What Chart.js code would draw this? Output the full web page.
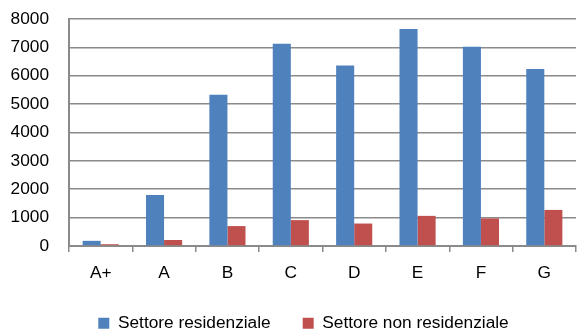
<!DOCTYPE html>
<html>
<head>
<meta charset="utf-8">
<script src="https://cdn.jsdelivr.net/npm/chart.js@4"></script>
<style>
  html, body { margin: 0; padding: 0; background: #fff; }
  #wrap { width: 577px; height: 333px; }
</style>
</head>
<body>
<div id="wrap"><canvas id="chart"></canvas></div>
<script>
// classi energetiche
var classi = ['A+', 'A', 'B', 'C', 'D', 'E', 'F', 'G'];
var residenziale = [180, 1800, 5330, 7125, 6360, 7650, 7020, 6240];
var nonResidenziale = [60, 210, 700, 910, 790, 1060, 970, 1270];
var yTicks = [0, 1000, 2000, 3000, 4000, 5000, 6000, 7000, 8000];

var grigio = '#8a8a8a';
var font = { family: 'Liberation Sans, Arial, sans-serif', size: 17.3 };

// sposta un po' la legenda a destra, come nell'originale
var spostaLegenda = {
  id: 'spostaLegenda',
  afterLayout: function (chart) {
    chart.legend.left += 10;
    chart.legend.right += 10;
  }
};

new Chart(document.getElementById('chart'), {
  type: 'bar',
  data: {
    labels: classi,
    datasets: [{
      label: 'Settore residenziale',
      data: residenziale,
      backgroundColor: '#4f81bd'
    }, {
      label: 'Settore non residenziale',
      data: nonResidenziale,
      backgroundColor: '#c0504d'
    }]
  },
  plugins: [spostaLegenda],
  options: {
    responsive: true,
    maintainAspectRatio: false,
    animation: false,
    datasets: {
      bar: { barPercentage: 1, categoryPercentage: 0.57 }
    },
    layout: { padding: { left: 11, right: 1, top: 19, bottom: -9 } },
    plugins: {
      tooltip: { enabled: false },
      legend: {
        position: 'bottom',
        labels: {
          boxWidth: 11,
          boxHeight: 11,
          padding: 32,
          color: '#000',
          font: font
        }
      }
    },
    scales: {
      x: {
        afterFit: function (axis) { axis.height -= 12; },
        grid: {
          drawOnChartArea: false,
          drawTicks: true,
          tickLength: 6,
          color: grigio,
          lineWidth: 1.5
        },
        border: { color: grigio, width: 2 },
        ticks: { color: '#000', padding: 11, font: font }
      },
      y: {
        min: 0,
        max: 8000,
        afterBuildTicks: function (axis) {
          axis.ticks = yTicks.map(function (v) { return { value: v }; });
        },
        afterFit: function (axis) { axis.width = 58; },
        grid: {
          color: grigio,
          lineWidth: 1.5,
          drawTicks: true,
          tickLength: 20,
          tickColor: 'rgba(0,0,0,0)'
        },
        border: { color: grigio, width: 2 },
        ticks: {
          color: '#000',
          padding: 0,
          font: font,
          callback: function (v) { return String(v); }
        }
      }
    }
  }
});
</script>
</body>
</html>
